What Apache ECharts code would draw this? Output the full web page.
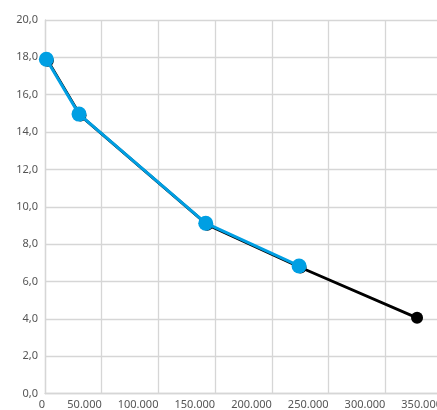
<!DOCTYPE html>
<html><head><meta charset="utf-8">
<script src="https://cdn.jsdelivr.net/npm/echarts@6/dist/echarts.min.js"></script>
<style>html,body{margin:0;padding:0;background:#fff}#c{width:437px;height:410px}</style>
</head><body><div id="c"></div>
<script>
const blackX = [2500, 31300, 143000, 225300, 328000];
const blackY = [17.82, 14.88, 9.04, 6.75, 4.05];
const blueX = [1200, 30000, 141700, 224000];
const blueY = [17.9, 14.96, 9.12, 6.83];
const xTicks = {min: 0, max: 350000, interval: 50000};
const yTicks = {min: 0, max: 20, interval: 2};

const pairs = (xs, ys) => xs.map((x, i) => [x, ys[i]]);
const fmtX = v => String(v).replace(/\B(?=(\d{3})+(?!\d))/g, '.');
const fmtY = v => v.toFixed(1).replace('.', ',');
const grid = {lineStyle: {color: '#d6d6d6', width: 1.3}};
const chart = echarts.init(document.getElementById('c'));
chart.setOption({
  animation: false,
  grid: {left: 45, right: -5, top: 20, bottom: 16.5, containLabel: false, outerBoundsMode: 'none'},
  xAxis: {type: 'value', min: xTicks.min, max: xTicks.max, interval: xTicks.interval,
    axisLine: {show: true, lineStyle: {color: '#d6d6d6', width: 1.3}}, axisTick: {show: false},
    splitLine: {show: true, ...grid},
    axisLabel: {formatter: fmtX, color: '#555', fontFamily: 'Noto Sans', fontSize: 11, margin: 6,
      hideOverlap: false, align: 'right', showMinLabel: true, showMaxLabel: true}},
  yAxis: {type: 'value', min: yTicks.min, max: yTicks.max, interval: yTicks.interval,
    axisLine: {show: true, lineStyle: {color: '#d6d6d6', width: 1.3}}, axisTick: {show: false},
    splitLine: {show: true, ...grid},
    axisLabel: {formatter: fmtY, color: '#555', fontFamily: 'Noto Sans', fontSize: 11, margin: 7}},
  series: [
    {type: 'line', data: pairs(blackX, blackY), symbol: 'circle', symbolSize: 12,
     itemStyle: {color: '#000'}, lineStyle: {color: '#000', width: 2.8}, z: 2},
    {type: 'line', data: pairs(blueX, blueY), symbol: 'circle', symbolSize: 15,
     itemStyle: {color: '#009fe3'}, lineStyle: {color: '#009fe3', width: 3}, z: 3}
  ]
});
</script></body></html>
